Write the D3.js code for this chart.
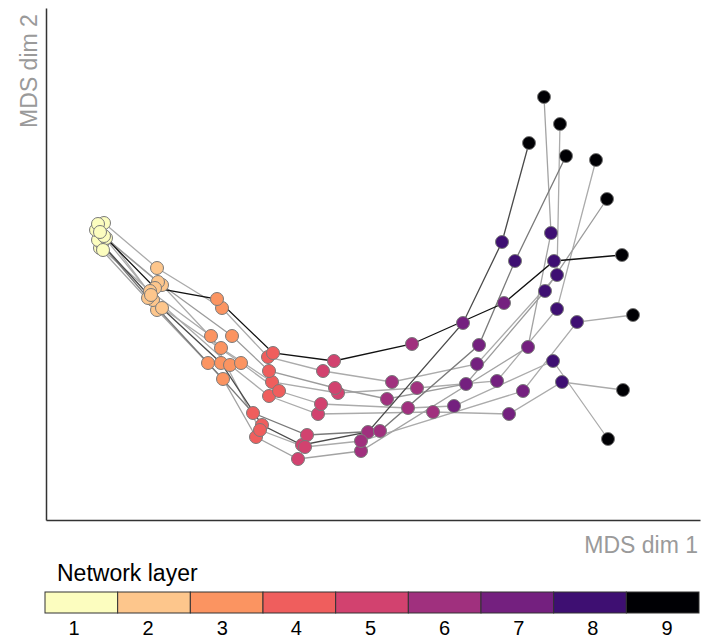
<!DOCTYPE html>
<html>
<head>
<meta charset="utf-8">
<script src="https://cdn.jsdelivr.net/npm/d3@7"></script>
<style>
  body { margin: 0; background: #fff; }
  text { font-family: "Liberation Sans", Arial, sans-serif; }
</style>
</head>
<body>
<div id="chart"></div>
<script>
"use-strict";

// layer labels and colours (magma-like)
const layers = [1, 2, 3, 4, 5, 6, 7, 8, 9];
const layerColors = ["#fcfdbf", "#fdc68c", "#fb9461", "#ef5e5d", "#d2426f", "#a0307e", "#74207f", "#3e0f72", "#000004"];

// MDS coordinates, one row per layer, one value per trajectory (T1..T10)
const dim1 = [
    [-2.73, -2.69, -2.71, -2.75, -2.67, -2.77, -2.69, -2.70, -2.75, -2.73],
    [-2.16, -2.16, -2.20, -2.25, -2.11, -2.15, -2.18, -2.23, -2.22, -2.11],
    [-1.50, -1.51, -1.52, -1.65, -1.52, -1.41, -1.56, -1.62, -1.43, -1.32],
    [-1.17, -1.05, -1.11, -1.20, -1.01, -1.04, -1.00, -1.13, -1.04, -0.94],
    [-0.75, -0.50, -0.71, -0.66, -0.35, -0.38, -0.39, -0.68, -0.55, -0.52],
    [-0.12, 0.19, -0.05, 0.07, 0.44, 0.14, 0.39, -0.12, 0.60, 0.35],
    [1.55, 1.04, 0.90, 1.06, 1.24, 0.93, 1.31, 1.50, 1.36, 0.81],
    [1.78, 1.84, 1.29, 1.42, 1.84, 1.72, 1.81, 2.04, 1.89, 1.80],
    [1.71, 1.87, 1.56, 1.93, 2.23, 2.34, 2.49, 2.60, 2.50, 2.35]
];
const dim2 = [
    [0.52, 0.77, 0.56, 0.60, 0.62, 0.70, 0.64, 0.50, 0.76, 0.68],
    [-0.10, 0.32, 0.00, 0.02, 0.15, 0.18, 0.12, 0.09, 0.05, -0.08],
    [-0.79, -0.08, -0.63, -0.63, -0.48, -0.36, 0.01, -0.36, -0.65, -0.63],
    [-1.37, -0.57, -1.25, -1.13, -0.82, -0.71, -0.53, -1.30, -0.96, -0.91],
    [-1.59, -0.71, -1.45, -1.35, -0.93, -0.88, -0.61, -1.47, -1.14, -1.04],
    [-1.51, -0.82, -1.32, -1.31, -0.88, -0.99, -0.44, -1.41, -1.12, -1.08],
    [-0.47, -0.64, -0.23, -0.45, -0.81, -0.84, -0.03, -0.91, -1.14, -1.06],
    [0.67, 0.25, 0.58, 0.39, -0.09, 0.09, 0.39, -0.22, -0.82, -0.61],
    [2.03, 1.76, 1.57, 1.44, 1.40, 1.01, 0.45, -0.15, -0.90, -1.39]
];

// line shade of each trajectory
const trajColors = ["#a3a3a3", "#ababab", "#4a4a4a", "#7a7a7a", "#ababab", "#9c9c9c", "#111111", "#ababab", "#ababab", "#ababab"];

const msm = {
    width: 701,
    height: 640,
    left: 46,
    right: 700,
    top: 8,
    bottom: 520
}

let svgContainer = d3.select("#chart")
    .append("svg")
    .attr("width", msm.width)
    .attr("height", msm.height);

let xScale = d3.scaleLinear()
    .domain([-3.27, 3.27])
    .range([msm.left, msm.right]);

let yScale = d3.scaleLinear()
    .domain([-2.2, 2.92])
    .range([msm.bottom, msm.top]);

// axes without ticks
svgContainer.append("g")
    .attr("transform", "translate(" + msm.left + ",0)")
    .call(d3.axisLeft(yScale).tickValues([]).tickSizeOuter(0))
    .select(".domain").attr("stroke", "#333").attr("stroke-width", 1.5);

svgContainer.append("g")
    .attr("transform", "translate(0," + msm.bottom + ")")
    .call(d3.axisBottom(xScale).tickValues([]).tickSizeOuter(0))
    .select(".domain").attr("stroke", "#333").attr("stroke-width", 1.5);

svgContainer.append("text")
    .attr("transform", "translate(37," + 71 + ") rotate(-90)")
    .attr("text-anchor", "middle")
    .style("font-size", "23px")
    .attr("fill", "#9a9a9a")
    .text("MDS dim 2");

svgContainer.append("text")
    .attr("x", 698)
    .attr("y", 553)
    .attr("text-anchor", "end")
    .style("font-size", "23px")
    .attr("fill", "#9a9a9a")
    .text("MDS dim 1");

// trajectories
let trajs = d3.range(10).map(t => layers.map((l, i) => ({ x: dim1[i][t], y: dim2[i][t] })));
let order = d3.range(10).sort((a, b) => d3.descending(trajColors[a], trajColors[b]));

let line = d3.line()
    .x(d => xScale(d.x))
    .y(d => yScale(d.y));

svgContainer.selectAll(".traj")
    .data(order)
    .enter()
    .append("path")
    .attr("class", "traj")
    .attr("d", t => line(trajs[t]))
    .attr("fill", "none")
    .attr("stroke", t => trajColors[t])
    .attr("stroke-width", 1.3);

// points
let points = [];
layers.forEach((l, i) => {
    for (let t = 0; t < 10; t++) points.push({ layer: i, x: dim1[i][t], y: dim2[i][t] });
});

svgContainer.selectAll(".pt")
    .data(points)
    .enter()
    .append("circle")
    .attr("class", "pt")
    .attr("cx", d => xScale(d.x))
    .attr("cy", d => yScale(d.y))
    .attr("r", 6.5)
    .attr("fill", d => layerColors[d.layer])
    .attr("stroke", "#7a7a7a")
    .attr("stroke-width", 1);

// legend
let legScale = d3.scaleBand()
    .domain(layers)
    .range([45, 699]);

let labScale = d3.scaleLinear()
    .domain([1, 9])
    .range([74, 667]);

svgContainer.append("text")
    .attr("x", 57)
    .attr("y", 581)
    .style("font-size", "23px")
    .attr("fill", "#000")
    .text("Network layer");

svgContainer.selectAll(".leg")
    .data(layers)
    .enter()
    .append("rect")
    .attr("class", "leg")
    .attr("x", d => legScale(d))
    .attr("y", 592)
    .attr("width", legScale.bandwidth())
    .attr("height", 21)
    .attr("fill", (d, i) => layerColors[i])
    .attr("stroke", "#333")
    .attr("stroke-width", 1);

svgContainer.selectAll(".legLab")
    .data(layers)
    .enter()
    .append("text")
    .attr("class", "legLab")
    .attr("x", d => labScale(d))
    .attr("y", 635)
    .attr("text-anchor", "middle")
    .style("font-size", "20px")
    .attr("fill", "#000")
    .text(d => d);
</script>
</body>
</html>
